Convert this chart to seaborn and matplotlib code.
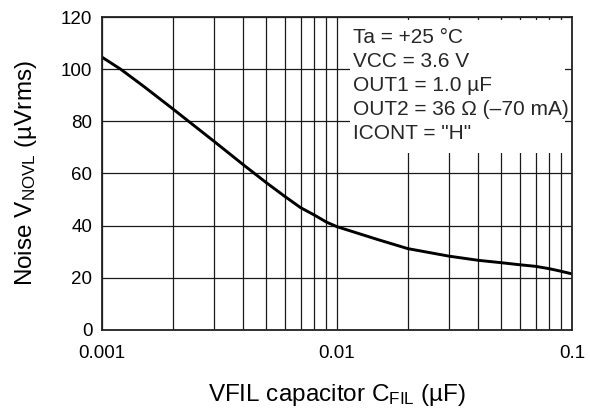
import numpy as np
import pandas as pd
import seaborn as sns
import matplotlib
matplotlib.use("Agg")
import matplotlib.pyplot as plt
from matplotlib.patches import Rectangle
from matplotlib.ticker import FixedLocator, LogLocator, NullFormatter, FixedFormatter

# values
cap_uF = [0.001, 0.0012, 0.0015, 0.002, 0.003, 0.004, 0.005, 0.006, 0.007,
          0.008, 0.009, 0.01, 0.015, 0.02, 0.03, 0.04, 0.05, 0.06, 0.07,
          0.08, 0.09, 0.1]
noise_uVrms = [104.6, 100.0, 93.5, 84.8, 72.3, 63.3, 56.5, 51.2, 46.9,
               44.1, 41.4, 39.6, 34.6, 31.2, 28.3, 26.7, 25.8, 25.0, 24.4,
               23.5, 22.5, 21.5]

x_ticks = [0.001, 0.01, 0.1]
x_tick_labels = ["0.001", "0.01", "0.1"]
y_ticks = [0, 20, 40, 60, 80, 100, 120]

conditions = ["Ta = +25 °C", "VCC = 3.6 V", "OUT1 = 1.0 µF",
              "OUT2 = 36 Ω (–70 mA)", 'ICONT = "H"']

sns.set_theme(style="white")
plt.rcParams['font.family'] = ['Liberation Sans', 'DejaVu Sans']
plt.rcParams['mathtext.fontset'] = 'custom'
plt.rcParams['mathtext.rm'] = 'Liberation Sans'

df = pd.DataFrame({"cap": cap_uF, "noise": noise_uVrms})

fig = plt.figure(figsize=(5.9, 4.09), dpi=100)
ax = fig.add_axes([0.1729, 0.1932, 0.7966, 0.7652])

ax.set_xscale("log")
ax.set_xlim(0.001, 0.1)
ax.set_ylim(0, 120)

# grid: every log decade step on x, 20 steps on y
ax.xaxis.set_major_locator(FixedLocator(x_ticks))
ax.xaxis.set_major_formatter(FixedFormatter(x_tick_labels))
ax.xaxis.set_minor_locator(LogLocator(base=10, subs=np.arange(2, 10)))
ax.xaxis.set_minor_formatter(NullFormatter())
ax.set_yticks(y_ticks)
ax.grid(True, which="both", axis="x", color="#1a1a1a", linewidth=0.9)
ax.grid(True, which="major", axis="y", color="#1a1a1a", linewidth=0.9)
ax.set_axisbelow(True)

sns.lineplot(data=df, x="cap", y="noise", ax=ax, color="black",
             linewidth=2.1, zorder=3)

ax.tick_params(axis="both", which="both", length=0, labelsize=13.5,
               colors="black")
ax.tick_params(axis="x", pad=11)
ax.tick_params(axis="y", pad=7)
for sp in ax.spines.values():
    sp.set_color("#222222")
    sp.set_linewidth(1.3)
    sp.set_zorder(5)

ax.set_xlabel(r"VFIL capacitor C$\mathregular{_{FIL}}$ (µF)", fontsize=17.5,
              labelpad=14, color="black")
ax.set_ylabel(r"Noise V$\mathregular{_{NOVL}}$ (µVrms)", fontsize=17.5,
              labelpad=16, color="black")

# white panel behind the test conditions, hides the grid there
ax.add_patch(Rectangle((0.5277, 0.5655), 0.457, 0.424, transform=ax.transAxes,
                       facecolor="white", edgecolor="none", zorder=4))
ax.text(0.533, 0.965, "\n".join(conditions), transform=ax.transAxes,
        fontsize=15, va="top", ha="left", linespacing=1.33, zorder=4.5)

fig.savefig("out.png", dpi=100)
